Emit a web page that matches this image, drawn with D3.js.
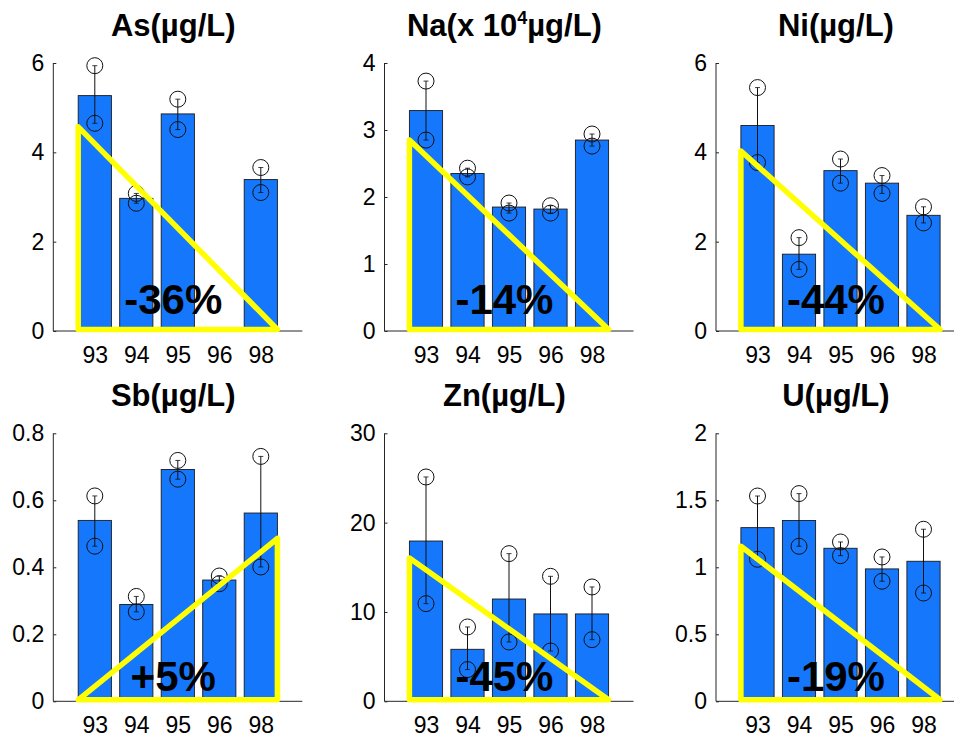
<!DOCTYPE html>
<html>
<head>
<meta charset="utf-8">
<script src="https://cdn.jsdelivr.net/npm/d3@7"></script>
<style>
  html, body { margin: 0; padding: 0; background: #fff; }
  svg { display: block; font-family: "Liberation Sans", Arial, Helvetica, sans-serif; }
</style>
</head>
<body>
<svg id="chart" width="954" height="734"></svg>
<script>
// ---------------- DATA ----------------
const categories = ["93", "94", "95", "96", "98"];

const titleMain = ["As(µg/L)", "Na(x 10", "Ni(µg/L)", "Sb(µg/L)", "Zn(µg/L)", "U(µg/L)"];
const titleSup  = ["", "4", "", "", "", ""];
const titleTail = ["", "µg/L)", "", "", "", ""];

const asMeans = [5.27, 2.97, 4.86, null, 3.39];
const asPoints = [[5.94, 4.65], [3.08, 2.86], [5.19, 4.51], [], [3.66, 3.10]];

const naMeans = [3.29, 2.35, 1.85, 1.82, 2.85];
const naPoints = [[3.73, 2.85], [2.43, 2.30], [1.91, 1.76], [1.87, 1.76], [2.94, 2.76]];

const niMeans = [4.60, 1.72, 3.59, 3.31, 2.59];
const niPoints = [[5.45, 3.77], [2.09, 1.38], [3.85, 3.31], [3.48, 3.08], [2.78, 2.42]];

const sbMeans = [0.540, 0.289, 0.692, 0.362, 0.562];
const sbPoints = [[0.613, 0.463], [0.313, 0.267], [0.719, 0.663], [0.374, 0.351], [0.731, 0.401]];

const znMeans = [17.94, 5.82, 11.45, 9.78, 9.78];
const znPoints = [[25.11, 10.93], [8.32, 3.55], [16.53, 6.64], [13.99, 5.63], [12.80, 6.90]];

const uMeans = [1.296, 1.349, 1.142, 0.988, 1.045];
const uPoints = [[1.532, 1.060], [1.55, 1.157], [1.189, 1.087], [1.077, 0.896], [1.284, 0.808]];

const yMaxes = [6, 4, 6, 0.8, 30, 2];
const yTicks = [
  [0, 2, 4, 6],
  [0, 1, 2, 3, 4],
  [0, 2, 4, 6],
  [0, 0.2, 0.4, 0.6, 0.8],
  [0, 10, 20, 30],
  [0, 0.5, 1, 1.5, 2]
];

const trendStart = [4.57, 2.85, 4.03, 0, 16.04, 1.157];
const trendEnd   = [0, 0, 0, 0.486, 0, 0];
const pctLabels  = ["-36%", "-14%", "-44%", "+5%", "-45%", "-19%"];

const allMeans  = [asMeans, naMeans, niMeans, sbMeans, znMeans, uMeans];
const allPoints = [asPoints, naPoints, niPoints, sbPoints, znPoints, uPoints];

// ---------------- LAYOUT ----------------
const svg = d3.select("#chart");
const axW = 249, axH = 268;
const lefts = [53.3, 384.5, 716];
const tops = [63, 433.3];
const barColor = "#1577fb";
const inkColor = "#262626";

for (let p = 0; p < 6; p++) {
  const col = p % 3, row = Math.floor(p / 3);
  const g = svg.append("g").attr("transform", `translate(${lefts[col]},${tops[row]})`);

  const x = d3.scaleLinear().domain([0, 6]).range([0, axW]);
  const y = d3.scaleLinear().domain([0, yMaxes[p]]).range([axH, 0]);
  const means = allMeans[p];
  const pts = allPoints[p];
  const bw = x(0.8) - x(0);

  // bars
  g.selectAll("rect.bar")
    .data(means.map((v, i) => ({ v, i })).filter(d => d.v !== null))
    .join("rect")
    .attr("class", "bar")
    .attr("x", d => x(d.i + 1) - bw / 2)
    .attr("width", bw)
    .attr("y", d => y(d.v))
    .attr("height", d => y(0) - y(d.v))
    .attr("fill", barColor)
    .attr("stroke", "#1a1a1a")
    .attr("stroke-width", 0.9);

  // error bars (span of the replicate points)
  const errs = pts.map((arr, i) => ({ arr, i })).filter(d => d.arr.length > 0);
  const eg = g.append("g").attr("stroke", "#111").attr("stroke-width", 1).attr("fill", "none");
  errs.forEach(d => {
    const lo = d3.min(d.arr), hi = d3.max(d.arr);
    const cx = x(d.i + 1);
    eg.append("line").attr("x1", cx).attr("x2", cx).attr("y1", y(lo)).attr("y2", y(hi));
    eg.append("line").attr("x1", cx - 2.5).attr("x2", cx + 2.5).attr("y1", y(lo)).attr("y2", y(lo)).attr("stroke-width", 0.8);
    eg.append("line").attr("x1", cx - 2.5).attr("x2", cx + 2.5).attr("y1", y(hi)).attr("y2", y(hi)).attr("stroke-width", 0.8);
  });

  // replicate circles
  const flat = [];
  pts.forEach((arr, i) => arr.forEach(v => flat.push({ i, v })));
  g.selectAll("circle.pt")
    .data(flat)
    .join("circle")
    .attr("class", "pt")
    .attr("cx", d => x(d.i + 1))
    .attr("cy", d => y(d.v))
    .attr("r", 8)
    .attr("fill", "none")
    .attr("stroke", "#111")
    .attr("stroke-width", 1);

  // axes
  const yAxis = d3.axisLeft(y).tickValues(yTicks[p]).tickSize(-3).tickPadding(9)
    .tickFormat(d => String(+d.toFixed(2)));
  const ya = g.append("g").call(yAxis);
  ya.select(".domain").attr("d", `M0,0V${axH}`).attr("stroke", inkColor);
  ya.selectAll(".tick line").attr("stroke", inkColor);
  ya.selectAll(".tick text").attr("font-size", 23).attr("fill", "#000")
    .attr("font-family", "Liberation Sans, Arial, sans-serif");

  const xa = g.append("g").attr("transform", `translate(0,${axH})`)
    .call(d3.axisBottom(x).tickValues([1, 2, 3, 4, 5]).tickSize(0).tickPadding(0)
      .tickFormat(d => categories[d - 1]));
  xa.select(".domain").attr("d", `M0,0H${axW}`).attr("stroke", inkColor);
  xa.selectAll(".tick text").attr("font-size", 23).attr("fill", "#000")
    .attr("dy", null).attr("y", 32)
    .attr("font-family", "Liberation Sans, Arial, sans-serif");

  // trend triangle
  const tri = [[0.6, trendStart[p]], [5.4, trendEnd[p]], [5.4, 0], [0.6, 0]];
  g.append("path")
    .attr("d", d3.line().x(d => x(d[0])).y(d => y(d[1]) - (d[1] === 0 ? 1.5 : 0))(tri) + "Z")
    .attr("fill", "none")
    .attr("stroke", "#ffff00")
    .attr("stroke-width", 5.5)
    .attr("stroke-linejoin", "round");

  // percentage label
  g.append("text")
    .attr("x", x(2.89))
    .attr("y", axH - (row === 0 ? 17 : 10))
    .attr("text-anchor", "middle")
    .attr("font-size", 42)
    .attr("font-weight", "bold")
    .attr("fill", "#000")
    .text(pctLabels[p]);

  // title
  const t = g.append("text")
    .attr("x", x(2.89))
    .attr("y", -27)
    .attr("text-anchor", "middle")
    .attr("font-size", 31)
    .attr("font-weight", "bold")
    .attr("fill", "#000");
  t.append("tspan").text(titleMain[p]);
  if (titleSup[p]) {
    t.append("tspan").attr("font-size", 18).attr("dy", -12).text(titleSup[p]);
    t.append("tspan").attr("dy", 12).text(titleTail[p]);
  }
}
</script>
</body>
</html>
